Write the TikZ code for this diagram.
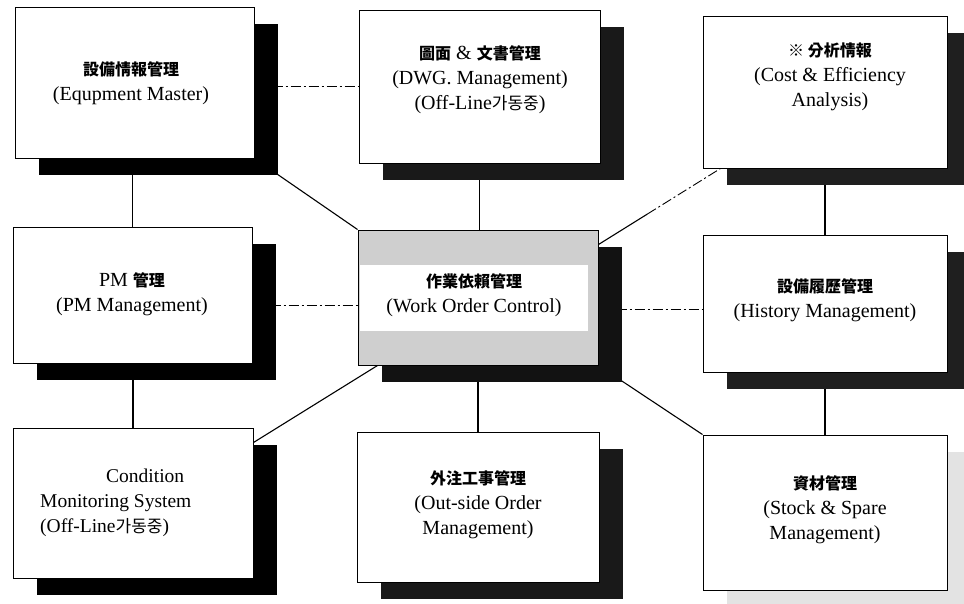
\documentclass[tikz,border=0pt]{standalone}
\usepackage{fontspec}
\setmainfont{Liberation Serif}
\newfontfamily\cjk{Noto Sans CJK KR}
\usetikzlibrary{shadows,backgrounds,calc}
\newcommand\hj[1]{{\cjk\bfseries\fontsize{16}{25}\selectfont #1}}
\newcommand\kr[1]{{\cjk\fontsize{17}{25}\selectfont #1}}
\begin{document}
\begin{tikzpicture}[x=1pt,y=-1pt,
  box/.style={draw, line width=1pt, fill=white, inner sep=0pt},
  sh/.style={drop shadow={shadow xshift=24pt, shadow yshift=-17pt, fill=#1, opacity=1}},
  lbl/.style={align=center, font=\fontsize{20}{25}\selectfont, inner sep=0pt},
  link/.style={line width=1.1pt},
  dd/.style={line width=0.9pt, dash pattern=on 10pt off 3pt on 2pt off 3pt}]
\useasboundingbox (0,0) rectangle (964,603);
\clip (0,0) rectangle (964,603);

% boxes
\node[box, sh=black, minimum width=239pt, minimum height=151pt] (b1) at (134.5,82.5) {};
\node[box, sh=black!90, minimum width=241pt, minimum height=153pt] (b2) at (479.5,86.5) {};
\node[box, sh=black!88, minimum width=244pt, minimum height=152pt] (b3) at (825,92) {};
\node[box, sh=black, minimum width=239pt, minimum height=136pt] (b4) at (132.5,295) {};
\node[box, sh=black!93, fill=gray!38, minimum width=240pt, minimum height=135pt] (c) at (478,297.5) {};
\fill[white] ([xshift=2pt,yshift=-35pt]c.north west) rectangle ([xshift=-11pt,yshift=35pt]c.south east);
\node[box, sh=black!88, minimum width=244pt, minimum height=137pt] (b6) at (825,303.5) {};
\node[box, sh=black, minimum width=240pt, minimum height=150pt] (b7) at (133,503) {};
\node[box, sh=black!90, minimum width=242pt, minimum height=150pt] (b8) at (478,507) {};
\node[box, sh=gray!22, minimum width=244pt, minimum height=155pt] (b9) at (825,512.5) {};

% texts
\node[lbl] (t1) at (131,83) {\hj{設備情報管理}\\(Equpment Master)};
\node[lbl] (t2) at (480,80) {\hj{圖面} \& \hj{文書管理}\\(DWG. Management)\\(Off-Line\kr{가동중})};
\node[lbl] (t3) at (830,77) {\hj{※ 分析情報}\\(Cost \& Efficiency\\Analysis)};
\node[lbl] (t4) at (132,294) {PM \hj{管理}\\(PM Management)};
\node[lbl] (tc) at (474,295) {\hj{作業依賴管理}\\(Work Order Control)};
\node[lbl] (t6) at (825,300.5) {\hj{設備履歷管理}\\(History Management)};
\node[lbl, align=left, anchor=west, font=\fontsize{19.5}{25}\selectfont] (t7) at (40,503) {\hspace*{66pt}Condition\\Monitoring System\\(Off-Line\kr{가동중})};
\node[lbl] (t8) at (478,505) {\hj{外注工事管理}\\(Out-side Order\\Management)};
\node[lbl] (t9) at (825,510) {\hj{資材管理}\\(Stock \& Spare\\Management)};

% connectors
\coordinate (cw) at ([yshift=-8pt]c.west);
\coordinate (bw6) at ([yshift=-6pt]b6.west);
\coordinate (c1) at ([yshift=-15pt]c.north east);
\coordinate (c3) at ([xshift=18pt]b3.south west);
\coordinate (cm) at ($(c1)!0.4!(c3)$);
\coordinate (c7a) at ([yshift=-15pt]b7.north east);
\coordinate (c7b) at ([xshift=20pt]c.south west);
\begin{pgfonlayer}{background}
\fill[white] (0,0) rectangle (964,603);
\draw[link] (b4.north) -- (b4.north |- b1.south);
\draw[link] (b7.north) -- (b7.north |- b4.south);
\draw[link] (b2.south) -- (b2.south |- c.north);
\draw[link] (b8.north) -- (b8.north |- c.south);
\draw[link] (b3.south) -- (b6.north);
\draw[link] (b6.south) -- (b9.north);
\draw[link] (b1.south east) -- (c.north west);
\draw[link] (c.south east) -- (b9.north west);
\draw[link] (c7a) -- (c7b);
\draw[link] (c1) -- (cm);
\draw[dd] (cm) -- (c3);
\draw[dd] (b1.east |- b2.west) -- (b2.west);
\draw[dd] (b4.east |- cw) -- (cw);
\draw[dd] (c.east |- bw6) -- (bw6);
\end{pgfonlayer}
\end{tikzpicture}
\end{document}
